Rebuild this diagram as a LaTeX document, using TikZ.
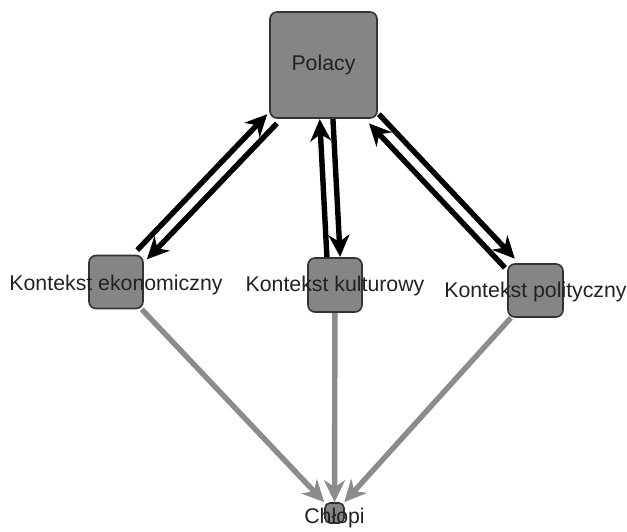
\documentclass[tikz,border=0pt]{standalone}
\usepackage{fontspec}
\setmainfont{Liberation Sans}
\usetikzlibrary{arrows.meta}
\pgfdeclarelayer{bg}
\pgfsetlayers{bg,main}
\definecolor{boxfill}{HTML}{858585}
\definecolor{boxline}{HTML}{333333}
\definecolor{grayarr}{HTML}{8C8C8C}
\definecolor{txt}{HTML}{222222}
\tikzset{
  box/.style={draw=boxline, fill=boxfill, line width=1.6pt, rounded corners=7pt, inner sep=0pt},
  lbl/.style={font=\fontsize{21.3}{25}\selectfont, text=txt, inner sep=0pt},
  blk/.style={draw=black, line width=5.4pt, -{Stealth[length=22pt,width=21pt,inset=7pt]}},
  gry/.style={draw=grayarr, line width=5.4pt, -{Stealth[length=22pt,width=21pt,inset=7pt]}}
}
\begin{document}
\begin{tikzpicture}[x=1pt,y=-1pt]
\useasboundingbox (0,0) rectangle (627,531);
\node[box, minimum width=107pt, minimum height=106pt,
  label={[lbl,name=tpol]center:Polacy}] (pol) at (323.5,65) {};
\node[box, minimum width=54pt, minimum height=53pt,
  label={[lbl,name=teko,yshift=-3pt]center:Kontekst ekonomiczny}] (eko) at (116,282) {};
\node[box, minimum width=54pt, minimum height=54pt,
  label={[lbl,name=tkul,yshift=-1pt]center:Kontekst kulturowy}] (kul) at (335,285) {};
\node[box, minimum width=55pt, minimum height=53pt,
  label={[lbl,name=tpli,yshift=-1pt]center:Kontekst polityczny}] (pli) at (535.5,290.5) {};
\node[box, minimum width=19pt, minimum height=20pt, rounded corners=5pt,
  label={[lbl,name=tchl,yshift=-5pt]center:Chłopi}] (chl) at (334.5,513) {};
\begin{pgfonlayer}{bg}
\draw[blk, transform canvas={shift={(-4.8,-4.6)}}] (eko) -- (pol);
\draw[blk, transform canvas={shift={(4.8,4.6)}}] (pol) -- (eko);
\draw[blk, transform canvas={shift={(-6.6,0.36)}}] (kul) -- (pol);
\draw[blk, transform canvas={shift={(6.6,-0.36)}}] (pol) -- (kul);
\draw[blk, transform canvas={shift={(4.9,-4.6)}}] (pol) -- (pli);
\draw[blk, transform canvas={shift={(-4.9,4.6)}}] (pli) -- (pol);
\draw[gry] (eko) -- (chl);
\draw[gry] (kul) -- (chl);
\draw[gry] (pli) -- (chl);
\end{pgfonlayer}
\end{tikzpicture}
\end{document}
